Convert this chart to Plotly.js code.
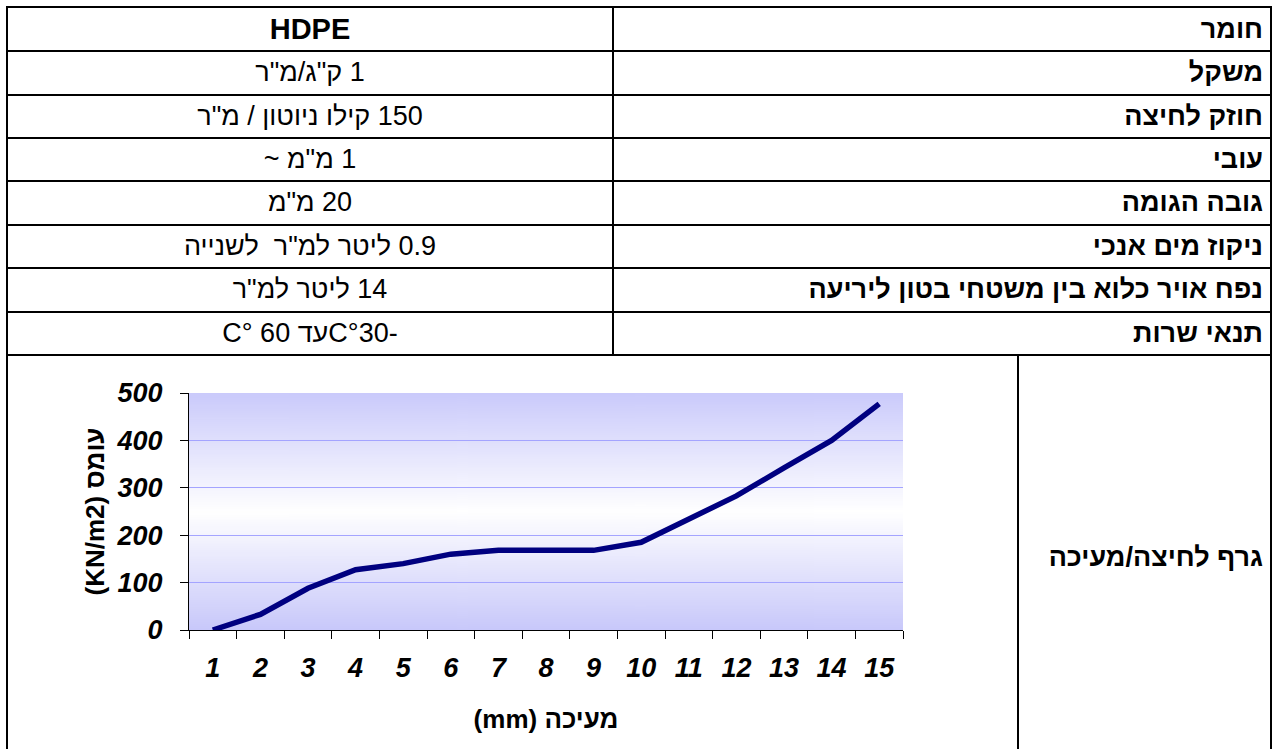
<!DOCTYPE html>
<html><head><meta charset="utf-8">
<script src="https://cdn.plot.ly/plotly-3.0.1.min.js"></script>
<style>
html,body{margin:0;padding:0;background:#fff;width:1278px;height:749px;overflow:hidden;font-family:"Liberation Sans",Arial,sans-serif;}
#page{position:relative;width:1278px;height:749px;}
.hl{position:absolute;height:2px;background:#000;}
.vl{position:absolute;width:2px;background:#000;}
.cell{position:absolute;display:flex;align-items:center;white-space:pre;color:#000;}
.lab{justify-content:flex-start;font-weight:bold;font-size:27px;}
.val{justify-content:center;font-size:27px;}
#chart{position:absolute;left:8px;top:356px;width:1009px;height:393px;}
</style></head>
<body><div id="page"><div id="chart"></div></div>
<script>
// ---- table data ----
const rowLabels = ["חומר","משקל","חוזק לחיצה","עובי","גובה הגומה","ניקוז מים אנכי","נפח אויר כלוא בין משטחי בטון ליריעה","תנאי שרות"];
const rowValues = ["HDPE","1 ק\"ג/מ\"ר","150 קילו ניוטון / מ\"ר","1 מ\"מ ~","20 מ\"מ","0.9 ליטר למ\"ר  לשנייה","14 ליטר למ\"ר","-30\u200F°Cעד 60 °C"];
const chartLabel = "גרף לחיצה/מעיכה";
// ---- chart data ----
const xLabels = ["1","2","3","4","5","6","7","8","9","10","11","12","13","14","15"];
const loadValues = [0,33,88,127,140,160,168,168,168,185,233,283,342,400,477];
const yTitle = "עומס (KN/m2)";
const xTitle = "מעיכה (mm)";

const page = document.getElementById('page');
function add(cls, style, text, dir){
  const d=document.createElement('div'); d.className=cls; Object.assign(d.style,style);
  if(text!==undefined){ d.textContent=text; }
  if(dir) d.dir=dir;
  page.appendChild(d); return d;
}
const rowTops=[6,50,93.5,137,180,223.5,267,310.5,354];
const L=6, R=1272, DIV=612, DIV2=1017;
rowTops.forEach(t=>add('hl',{left:L+'px',top:t+'px',width:(R-L)+'px'}));
add('vl',{left:L+'px',top:rowTops[0]+'px',height:(749-rowTops[0])+'px'});
add('vl',{left:(R-2)+'px',top:rowTops[0]+'px',height:(749-rowTops[0])+'px'});
add('vl',{left:DIV+'px',top:rowTops[0]+'px',height:(rowTops[8]-rowTops[0])+'px'});
add('vl',{left:DIV2+'px',top:rowTops[8]+'px',height:(749-rowTops[8])+'px'});
for(let i=0;i<rowLabels.length;i++){
  const top=rowTops[i]+2, h=rowTops[i+1]-rowTops[i]-2;
  add('cell lab',{left:(DIV+2)+'px',width:(R-2-DIV-2-7)+'px',top:top+'px',height:h+'px'},rowLabels[i],'rtl');
  const v=add('cell val',{left:(L+2)+'px',width:(DIV-L-2)+'px',top:top+'px',height:h+'px'},rowValues[i],'rtl');
  if(i===0){ v.style.fontWeight='bold'; v.style.fontSize='29px'; }
}
add('cell lab',{left:(DIV2+2)+'px',width:(R-2-DIV2-2-7)+'px',top:'356px',height:'402px'},chartLabel,'rtl');

// gradient background image for plot area
const cv=document.createElement('canvas'); cv.width=4; cv.height=256;
const cx=cv.getContext('2d'); const g=cx.createLinearGradient(0,0,0,256);
g.addColorStop(0,'#CACAFB'); g.addColorStop(0.5,'#FFFFFF'); g.addColorStop(1,'#C8C8FA');
cx.fillStyle=g; cx.fillRect(0,0,4,256);
const bg=cv.toDataURL();

const FONT='"Liberation Sans", Arial, sans-serif';
const tickFont={family:FONT,size:27,color:'#000',weight:'bold',style:'italic'};
const titleFont={family:FONT,size:26,weight:'bold',color:'#000'};
const trace={x:xLabels,y:loadValues,type:'scatter',mode:'lines',line:{color:'#000080',width:5.5},hoverinfo:'skip'};
const layout={
  width:1009,height:393,
  margin:{l:181,r:114,t:37,b:119},
  paper_bgcolor:'rgba(0,0,0,0)',plot_bgcolor:'rgba(0,0,0,0)',
  showlegend:false,
  font:{family:FONT,color:'#000'},
  images:[{source:bg,xref:'paper',yref:'paper',x:0,y:1,sizex:1,sizey:1,sizing:'stretch',xanchor:'left',yanchor:'top',layer:'below'}],
  xaxis:{type:'category',range:[-0.5,14.5],tickson:'boundaries',ticks:'outside',ticklen:8,tickcolor:'#000',tickwidth:1,
    showline:true,linecolor:'#000',linewidth:1,showgrid:false,zeroline:false,
    tickfont:tickFont,ticklabelstandoff:14,
    title:{text:'\u202B'+xTitle+'\u202C',font:titleFont,standoff:27}},
  yaxis:{range:[0,500],dtick:100,tick0:0,ticks:'outside',ticklen:8,tickcolor:'#000',tickwidth:1,
    showline:true,linecolor:'#000',linewidth:1,showgrid:true,gridcolor:'#A4A4FF',gridwidth:1,zeroline:false,
    tickfont:tickFont,ticklabelstandoff:12,
    title:{text:'\u202B'+yTitle+'\u202C',font:titleFont,standoff:4}}
};
Plotly.newPlot('chart',[trace],layout,{staticPlot:true,displayModeBar:false});
</script></body></html>
